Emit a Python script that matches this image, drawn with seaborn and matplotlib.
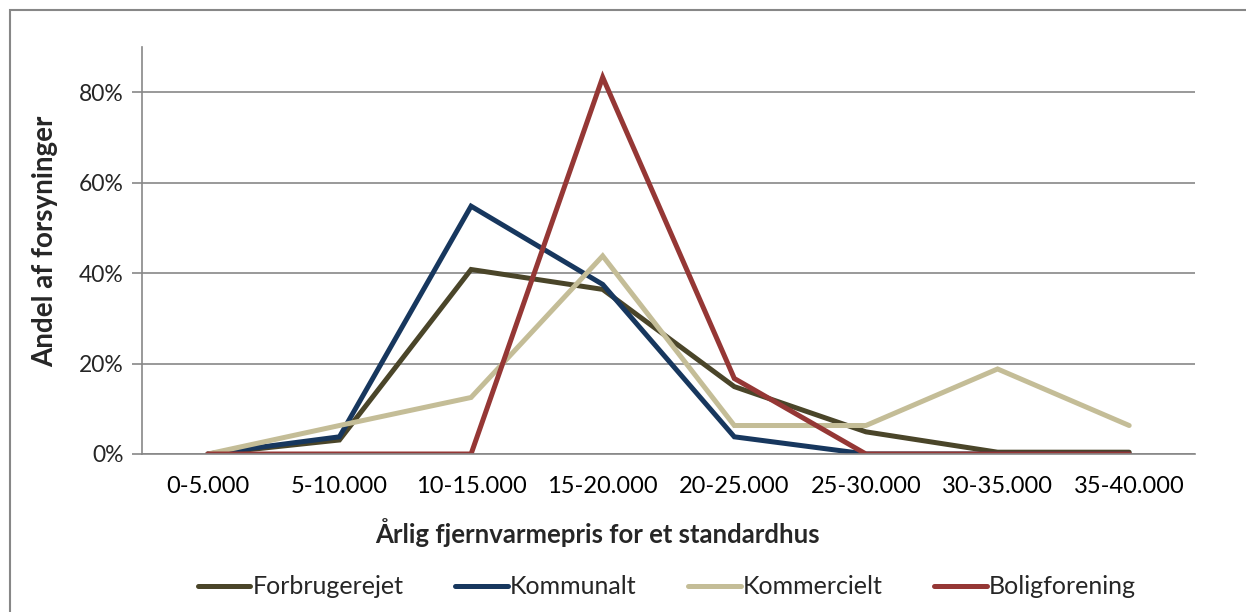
import numpy as np
import pandas as pd
import seaborn as sns
import matplotlib.pyplot as plt
from matplotlib.patches import Rectangle
from matplotlib.ticker import PercentFormatter, FixedLocator

categories = ["0-5.000", "5-10.000", "10-15.000", "15-20.000",
              "20-25.000", "25-30.000", "30-35.000", "35-40.000"]
forbrugerejet = [0.0, 3.1, 40.8, 36.4, 14.9, 4.9, 0.4, 0.4]
kommunalt = [0.0, 3.8, 54.8, 37.5, 3.8, 0.0, 0.0, 0.0]
kommercielt = [0.0, 6.3, 12.5, 43.8, 6.3, 6.3, 18.8, 6.3]
boligforening = [0.0, 0.0, 0.0, 83.3, 16.7, 0.0, 0.0, 0.0]

series = {
    "Forbrugerejet": forbrugerejet,
    "Kommunalt": kommunalt,
    "Kommercielt": kommercielt,
    "Boligforening": boligforening,
}
colors = ["#4A4529", "#17375E", "#C4BD97", "#953735"]

rows = []
for name, vals in series.items():
    for i, v in enumerate(vals):
        rows.append({"pos": i, "value": v / 100, "serie": name})
df = pd.DataFrame(rows)

sns.set_style("white")
plt.rcParams["font.family"] = ["Lato", "DejaVu Sans"]

fig = plt.figure(figsize=(12.46, 6.12), dpi=100)
ax = fig.add_axes([142 / 1246, 1 - 454 / 612, (1195 - 142) / 1246, (454 - 47) / 612])

# outer frame of the chart object (goes past right/bottom edge)
fig.patches.append(Rectangle((10 / 1246, -0.1), 1.2, 1 - 10 / 612 + 0.1,
                             transform=fig.transFigure, fill=False,
                             edgecolor="#878787", linewidth=1.5))

sns.lineplot(data=df, x="pos", y="value", hue="serie", palette=colors,
             linewidth=3.6, ax=ax, legend=False)
for ln in ax.lines:
    ln.set_solid_capstyle("round")
    ln.set_solid_joinstyle("miter")

ax.set_xlim(-0.5, 7.5)
ax.set_ylim(0, 0.9)
ax.set_yticks([0, 0.2, 0.4, 0.6, 0.8])
ax.yaxis.set_major_formatter(PercentFormatter(1.0, decimals=0))
ax.yaxis.grid(True, color="#878787", linewidth=1.2)
ax.set_axisbelow(True)

ax.set_xticks(range(len(categories)))
ax.set_xticklabels(categories)
ax.xaxis.set_minor_locator(FixedLocator(np.arange(-0.5, 8, 1)))
ax.tick_params(axis="x", which="major", length=0, pad=16, labelsize=17, colors="black")
ax.tick_params(axis="x", which="minor", length=8, width=1.2, color="#878787", direction="out")
ax.tick_params(axis="y", which="major", length=7, width=1.2, color="#878787",
               direction="out", labelsize=16.5, pad=6)
ax.tick_params(axis="both", bottom=True, left=True)

for side in ["top", "right"]:
    ax.spines[side].set_visible(False)
for side in ["left", "bottom"]:
    ax.spines[side].set_color("#878787")
    ax.spines[side].set_linewidth(1.2)

# axis titles sit where Excel put them (x title left of centre)
ax.set_xlabel("Årlig fjernvarmepris for et standardhus", fontsize=18.5, fontweight="bold")
ax.xaxis.set_label_coords((597 - 142) / 1053, -64 / 407)
ax.set_ylabel("Andel af forsyninger", fontsize=20, fontweight="bold")
ax.yaxis.set_label_coords(-84 / 1053, (454 - 241) / 407)

handles = [plt.Line2D([0], [0], color=c, linewidth=3.6, solid_capstyle="round") for c in colors]
fig.legend(handles, list(series.keys()), loc="center", bbox_to_anchor=(667 / 1246, 1 - 587 / 612),
           ncol=4, frameon=False, fontsize=18, handlelength=2.1, handletextpad=0.1,
           columnspacing=2.05)

fig.savefig("out.png", dpi=100)
